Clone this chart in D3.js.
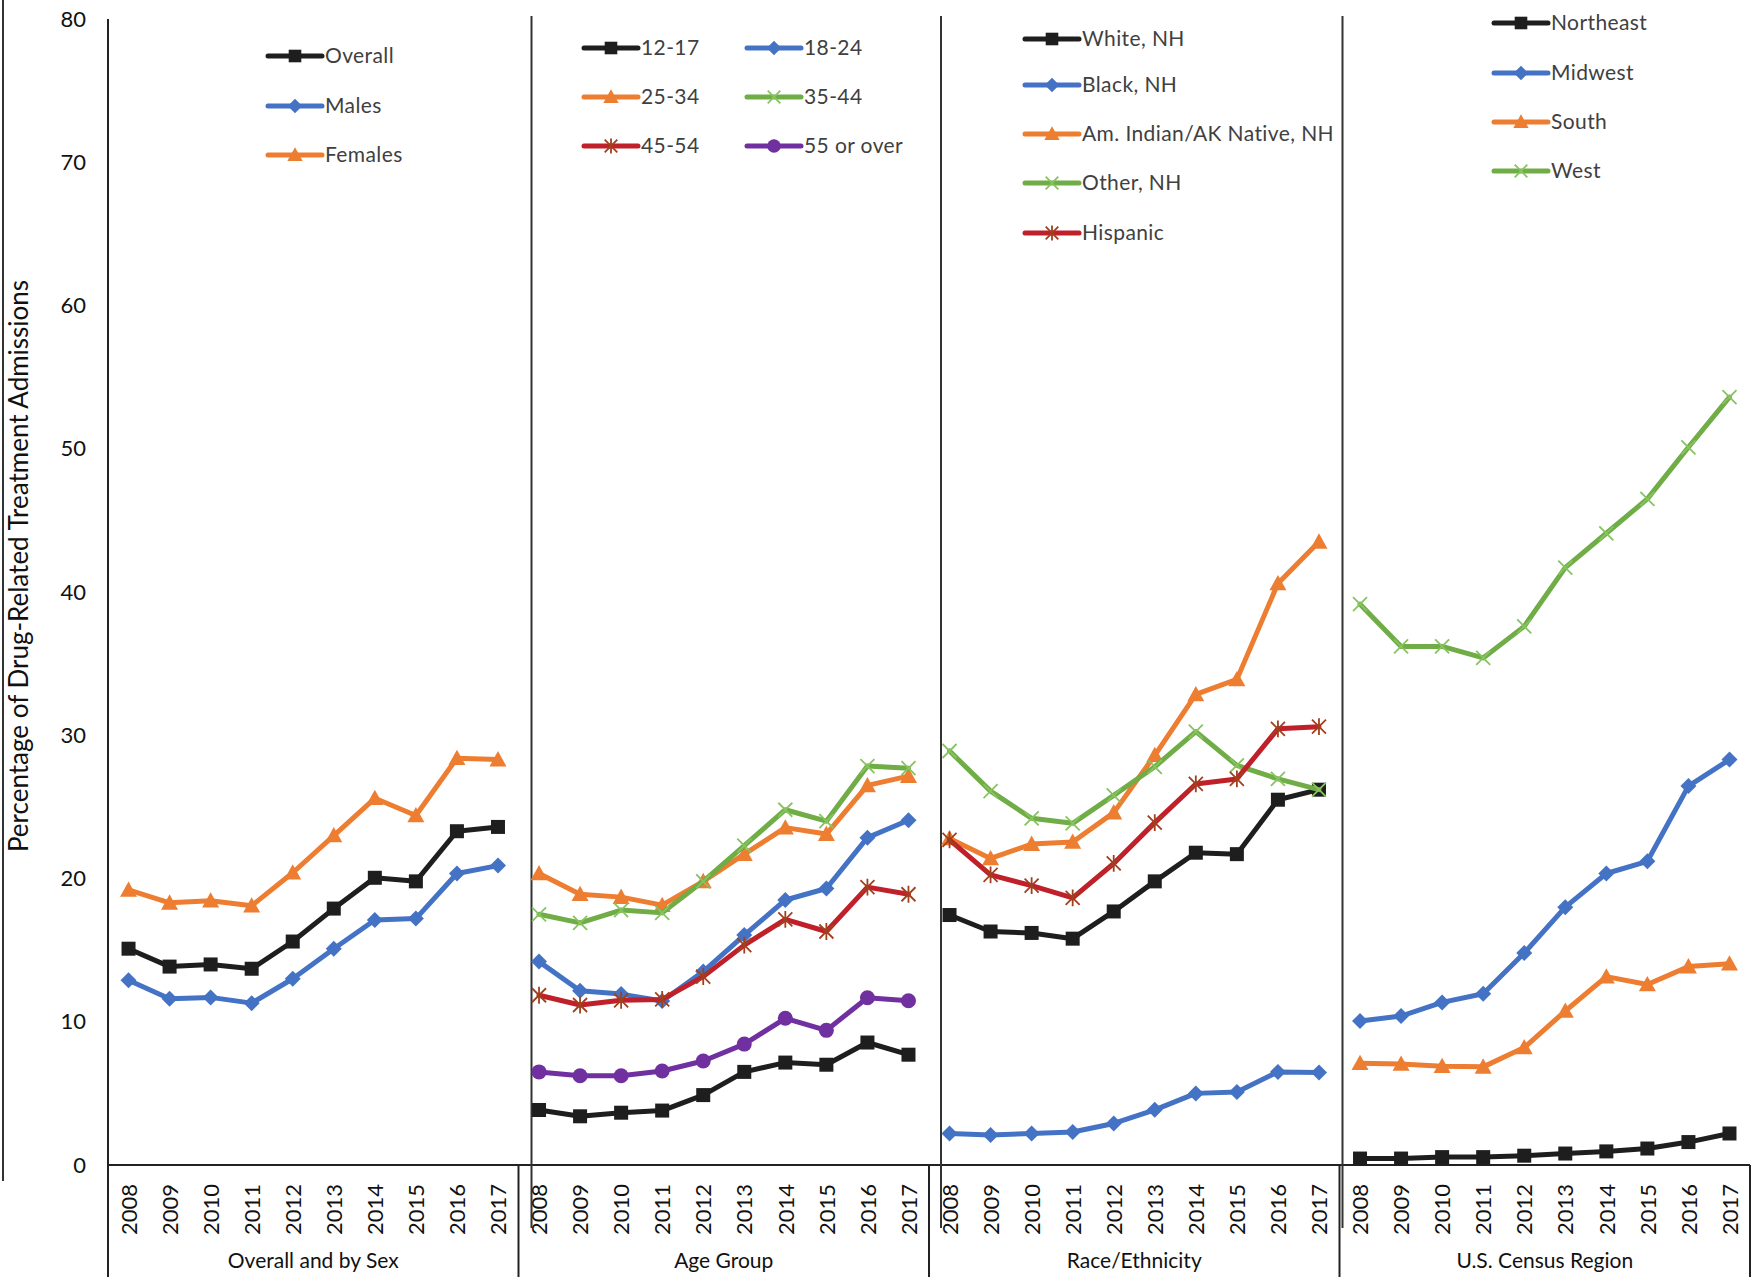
<!DOCTYPE html>
<html>
<head>
<meta charset="utf-8">
<script src="https://cdn.jsdelivr.net/npm/d3@7/dist/d3.min.js"></script>
<style>
  html, body { margin: 0; padding: 0; background: #fff; }
  svg { display: block; }
</style>
</head>
<body>
<svg id="chart" width="1753" height="1277"></svg>
<script>
// ---------- DATA ----------
const years = ['2008','2009','2010','2011','2012','2013','2014','2015','2016','2017'];
const groups = ['Overall and by Sex','Age Group','Race/Ethnicity','U.S. Census Region'];
const yTicks = [0,10,20,30,40,50,60,70,80];
const yTitle = 'Percentage of Drug-Related Treatment Admissions';

// Overall and by Sex
const overall  = [15.1, 13.85, 14.0, 13.7, 15.6, 17.9, 20.05, 19.8, 23.3, 23.6];
const males    = [12.9, 11.6, 11.7, 11.3, 13.0, 15.1, 17.1, 17.2, 20.35, 20.9];
const females  = [19.2, 18.3, 18.45, 18.1, 20.4, 23.0, 25.6, 24.4, 28.4, 28.3];

// Age Group
const age1217  = [3.84, 3.4, 3.65, 3.8, 4.88, 6.5, 7.15, 7.0, 8.55, 7.7];
const age1824  = [14.2, 12.17, 11.93, 11.45, 13.5, 16.05, 18.5, 19.3, 22.85, 24.07];
const age2534  = [20.35, 18.9, 18.7, 18.14, 19.8, 21.7, 23.55, 23.1, 26.5, 27.15];
const age3544  = [17.5, 16.9, 17.8, 17.6, 19.8, 22.3, 24.8, 24.0, 27.85, 27.7];
const age4554  = [11.85, 11.17, 11.5, 11.56, 13.15, 15.35, 17.15, 16.3, 19.4, 18.9];
const age55    = [6.5, 6.23, 6.23, 6.56, 7.26, 8.44, 10.24, 9.4, 11.68, 11.47];

// Race/Ethnicity
const whiteNH  = [17.45, 16.3, 16.2, 15.8, 17.7, 19.8, 21.8, 21.7, 25.5, 26.2];
const blackNH  = [2.2, 2.1, 2.2, 2.3, 2.9, 3.85, 5.0, 5.1, 6.5, 6.45];
const amIndNH  = [22.8, 21.4, 22.4, 22.55, 24.6, 28.6, 32.85, 33.9, 40.6, 43.5];
const otherNH  = [28.9, 26.1, 24.2, 23.85, 25.8, 27.8, 30.25, 27.9, 26.95, 26.2];
const hispanic = [22.7, 20.25, 19.5, 18.65, 21.05, 23.9, 26.6, 26.95, 30.45, 30.6];

// U.S. Census Region
const northeast = [0.45, 0.45, 0.55, 0.55, 0.65, 0.8, 0.95, 1.15, 1.6, 2.2];
const midwest   = [10.05, 10.4, 11.35, 11.95, 14.8, 18.0, 20.35, 21.2, 26.45, 28.3];
const south     = [7.1, 7.05, 6.9, 6.85, 8.2, 10.75, 13.15, 12.6, 13.85, 14.05];
const west      = [39.15, 36.2, 36.2, 35.4, 37.6, 41.7, 44.1, 46.5, 50.1, 53.6];

// ---------- STYLE ----------
const C = {
  black: '#1e1e1e', blue: '#4472C4', orange: '#ED7D31', green: '#70AD47',
  red: '#C0202A', purple: '#7030A0'
};
const panels = [
  { group: groups[0], series: [
    { name: 'Overall', values: overall, color: C.black, marker: 'square' },
    { name: 'Males', values: males, color: C.blue, marker: 'diamond' },
    { name: 'Females', values: females, color: C.orange, marker: 'triangle' } ] },
  { group: groups[1], series: [
    { name: '12-17', values: age1217, color: C.black, marker: 'square' },
    { name: '18-24', values: age1824, color: C.blue, marker: 'diamond' },
    { name: '25-34', values: age2534, color: C.orange, marker: 'triangle' },
    { name: '35-44', values: age3544, color: C.green, marker: 'x' },
    { name: '45-54', values: age4554, color: C.red, marker: 'star' },
    { name: '55 or over', values: age55, color: C.purple, marker: 'circle' } ] },
  { group: groups[2], series: [
    { name: 'White, NH', values: whiteNH, color: C.black, marker: 'square' },
    { name: 'Black, NH', values: blackNH, color: C.blue, marker: 'diamond' },
    { name: 'Am. Indian/AK Native, NH', values: amIndNH, color: C.orange, marker: 'triangle' },
    { name: 'Other, NH', values: otherNH, color: C.green, marker: 'x' },
    { name: 'Hispanic', values: hispanic, color: C.red, marker: 'star' } ] },
  { group: groups[3], series: [
    { name: 'Northeast', values: northeast, color: C.black, marker: 'square' },
    { name: 'Midwest', values: midwest, color: C.blue, marker: 'diamond' },
    { name: 'South', values: south, color: C.orange, marker: 'triangle' },
    { name: 'West', values: west, color: C.green, marker: 'x' } ] }
];

// ---------- LAYOUT ----------
const svg = d3.select('#chart');
const W = 1753, H = 1277;
const plotL = 108, plotR = 1750, plotT = 19, plotB = 1165;
const tickFont = 'Lato, "Open Sans", sans-serif';

const y = d3.scaleLinear().domain([0, 80]).range([plotB, plotT]);
const gx = d3.scaleBand().domain(groups).range([plotL, plotR]).paddingInner(0).paddingOuter(0);
const xIn = d3.scaleBand().domain(years).range([0, gx.bandwidth()]);
const xPos = (g, yr) => gx(g) + xIn(yr) + xIn.bandwidth() / 2;

// far-left border line
svg.append('line').attr('x1', 3).attr('x2', 3).attr('y1', 0).attr('y2', 1181)
  .attr('stroke', '#333').attr('stroke-width', 2);

// Y axis labels
const yAxis = d3.axisLeft(y).tickValues(yTicks).tickSize(0).tickPadding(22);
const yG = svg.append('g').attr('transform', `translate(${plotL},0)`).call(yAxis);
yG.select('.domain').remove();
yG.selectAll('text').attr('font-family', tickFont).attr('font-size', 22).attr('fill', '#111');

// Y axis line
svg.append('line').attr('x1', plotL).attr('x2', plotL).attr('y1', plotT).attr('y2', H)
  .attr('stroke', '#222').attr('stroke-width', 2);

// Y title
svg.append('text')
  .attr('transform', `translate(28,${(plotT + plotB) / 2 - 26}) rotate(-90)`)
  .attr('text-anchor', 'middle')
  .attr('font-family', tickFont).attr('font-size', 26).attr('fill', '#111')
  .text(yTitle);

// X axis line (zero)
svg.append('line').attr('x1', plotL).attr('x2', plotR).attr('y1', y(0)).attr('y2', y(0))
  .attr('stroke', '#222').attr('stroke-width', 2);

// category separators below axis
groups.forEach((g, i) => {
  if (i === 0) return;
  svg.append('line').attr('x1', gx(g)).attr('x2', gx(g)).attr('y1', y(0)).attr('y2', H)
    .attr('stroke', '#222').attr('stroke-width', 2);
});
svg.append('line').attr('x1', plotR).attr('x2', plotR).attr('y1', y(0)).attr('y2', H)
  .attr('stroke', '#222').attr('stroke-width', 2);

// drawn panel dividers (slightly offset from category boundaries)
const dividerOffsets = [13, 12, 3];
groups.slice(1).forEach((g, i) => {
  const xx = gx(g) + dividerOffsets[i];
  svg.append('line').attr('x1', xx).attr('x2', xx).attr('y1', 16).attr('y2', 1228)
    .attr('stroke', '#333').attr('stroke-width', 2);
});

// X tick labels + group labels
groups.forEach(g => {
  const xa = d3.axisBottom(d3.scalePoint().domain(years)
      .range([xPos(g, years[0]), xPos(g, years[years.length - 1])]))
    .tickSize(0);
  const ag = svg.append('g').attr('transform', `translate(0,${y(0)})`).call(xa);
  ag.select('.domain').remove();
  ag.selectAll('text')
    .attr('font-family', tickFont).attr('font-size', 22).attr('fill', '#111')
    .attr('text-anchor', 'end').attr('dy', '0.35em')
    .attr('transform', 'translate(0,19) rotate(-90)')
    .attr('x', 0).attr('y', 0);
  svg.append('text')
    .attr('x', gx(g) + gx.bandwidth() / 2).attr('y', 1268)
    .attr('text-anchor', 'middle')
    .attr('font-family', tickFont).attr('font-size', 21).attr('fill', '#111')
    .text(g);
});

// ---------- MARKERS ----------
function drawMarker(sel, type, color, cx, cy, s) {
  s = s || 1;
  const g = sel.append('g').attr('transform', `translate(${cx},${cy})`);
  if (type === 'square') {
    g.append('rect').attr('x', -7 * s).attr('y', -7 * s).attr('width', 14 * s).attr('height', 14 * s)
      .attr('fill', color);
  } else if (type === 'diamond') {
    const r = 8 * s;
    g.append('path').attr('d', `M0,${-r}L${r},0L0,${r}L${-r},0Z`).attr('fill', color);
  } else if (type === 'triangle') {
    const r = 8.5 * s;
    g.append('path').attr('d', `M0,${-r}L${r},${r * 0.8}L${-r},${r * 0.8}Z`).attr('fill', color);
  } else if (type === 'circle') {
    g.append('circle').attr('r', 7.5 * s).attr('fill', color);
  } else if (type === 'x') {
    const r = 7 * s;
    g.append('path').attr('d', `M${-r},${-r}L${r},${r}M${-r},${r}L${r},${-r}`)
      .attr('stroke', '#86C45F').attr('stroke-width', 1.8).attr('fill', 'none');
  } else if (type === 'star') {
    const r = 7 * s;
    g.append('path').attr('d', `M${-r},${-r}L${r},${r}M${-r},${r}L${r},${-r}M0,${-r * 1.2}L0,${r * 1.2}`)
      .attr('stroke', '#A0401E').attr('stroke-width', 1.8).attr('fill', 'none');
  }
}

// ---------- SERIES ----------
const line = d3.line();
panels.forEach(p => {
  const gp = svg.append('g');
  p.series.forEach(s => {
    const pts = s.values.map((v, i) => [xPos(p.group, years[i]), y(v)]);
    gp.append('path').attr('d', line(pts)).attr('fill', 'none')
      .attr('stroke', s.color).attr('stroke-width', 5)
      .attr('stroke-linejoin', 'round').attr('stroke-linecap', 'round');
    pts.forEach(pt => drawMarker(gp, s.marker, s.color, pt[0], pt[1]));
  });
});

// ---------- LEGENDS ----------
const legendFont = 'Lato, "Open Sans", sans-serif';
const legendSpecs = [
  { x0: 268, cols: 1, colW: 0, rows: [56, 106, 155] },
  { x0: 584, cols: 2, colW: 163, rows: [48, 97, 146] },
  { x0: 1025, cols: 1, colW: 0, rows: [39, 85, 134, 183, 233] },
  { x0: 1494, cols: 1, colW: 0, rows: [23, 73, 122, 171] }
];
panels.forEach((p, pi) => {
  const spec = legendSpecs[pi];
  const lg = svg.append('g');
  p.series.forEach((s, i) => {
    const col = spec.cols === 2 ? i % 2 : 0;
    const row = spec.cols === 2 ? Math.floor(i / 2) : i;
    const lx = spec.x0 + col * spec.colW;
    const ly = spec.rows[row];
    lg.append('line').attr('x1', lx).attr('x2', lx + 54).attr('y1', ly).attr('y2', ly)
      .attr('stroke', s.color).attr('stroke-width', 5).attr('stroke-linecap', 'round');
    drawMarker(lg, s.marker, s.color, lx + 27, ly, 0.9);
    lg.append('text').attr('x', lx + 57).attr('y', ly).attr('dy', '0.35em')
      .attr('font-family', legendFont).attr('font-size', 21).attr('fill', '#404040')
      .attr('letter-spacing', 0.4)
      .text(s.name);
  });
});
</script>
</body>
</html>
